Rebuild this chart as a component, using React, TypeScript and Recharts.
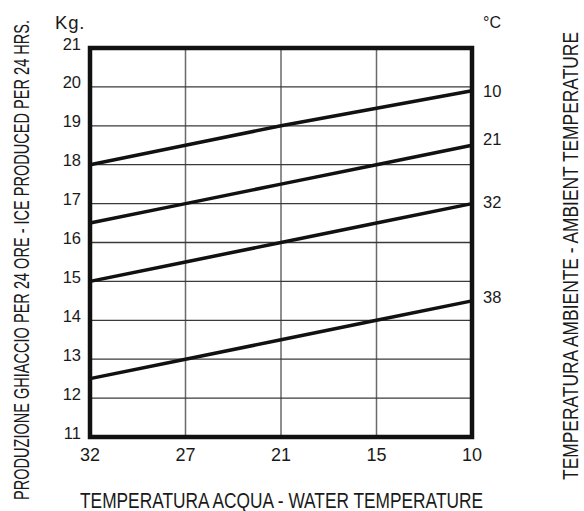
import React from "react";
import { LineChart, Line, XAxis, YAxis, CartesianGrid, ReferenceArea } from "recharts";

const waterTemps = ["32", "27", "21", "15", "10"];
const amb10 = [18, 18.5, 19, 19.45, 19.9];
const amb21 = [16.5, 17, 17.5, 18, 18.5];
const amb32 = [15, 15.5, 16, 16.5, 17];
const amb38 = [12.5, 13, 13.5, 14, 14.5];
const yTicks = [11, 12, 13, 14, 15, 16, 17, 18, 19, 20, 21];
const seriesNames = ["10", "21", "32", "38"];
const labelOffsets = [0, -6, -2, -4];

const data = waterTemps.map((w, i) => ({
  w,
  a10: amb10[i],
  a21: amb21[i],
  a32: amb32[i],
  a38: amb38[i],
}));

const keys = ["a10", "a21", "a32", "a38"];
const TXT = "#1a1a1a";
const tickFont = "'Liberation Sans', Arial, sans-serif";

const makeLabel = (si: number) => (props: any) => {
  const { x, y, index } = props;
  if (index !== waterTemps.length - 1) return null;
  return (
    <text
      x={x + 11}
      y={y + labelOffsets[si]}
      dominantBaseline="central"
      fontSize={16.5}
      fontFamily={tickFont}
      fill={TXT}
    >
      {seriesNames[si]}
    </text>
  );
};

const XTick = (props: any) => {
  const { x, y, payload } = props;
  return (
    <text x={x} y={y + 10} textAnchor="middle" dominantBaseline="central" fontSize={18} fontFamily={tickFont} fill={TXT}>
      {payload.value}
    </text>
  );
};

const YTick = (props: any) => {
  const { x, y, payload } = props;
  return (
    <text x={x - 1} y={y - 4.5} textAnchor="end" dominantBaseline="central" fontSize={16.5} fontFamily={tickFont} fill={TXT}>
      {payload.value}
    </text>
  );
};

export default function App() {
  return (
    <div style={{ position: "absolute", left: 0, top: 0, width: 584, height: 511, background: "#fff" }}>
      <LineChart
        width={584}
        height={511}
        data={data}
        margin={{ top: 48, right: 112, bottom: 44, left: 0 }}
      >
        <CartesianGrid horizontal={false} vertical={true} stroke="#6a6a6a" strokeWidth={1.5} />
        <CartesianGrid horizontal={true} vertical={false} stroke="#3a3a3a" strokeWidth={1.3} />
        <XAxis
          dataKey="w"
          height={30}
          tickLine={false}
          axisLine={false}
          tick={<XTick />}
          interval={0}
        />
        <YAxis
          width={90}
          domain={[11, 21]}
          ticks={yTicks}
          interval={0}
          tickLine={false}
          axisLine={false}
          tick={<YTick />}
        />
        <ReferenceArea
          x1="32"
          x2="10"
          y1={11}
          y2={21}
          fill="none"
          stroke="#111"
          strokeWidth={4.5}
          ifOverflow="visible"
        />
        {keys.map((k, si) => (
          <Line
            key={k}
            dataKey={k}
            type="linear"
            stroke="#111"
            strokeWidth={3.5}
            dot={false}
            activeDot={false}
            isAnimationActive={false}
            label={makeLabel(si)}
          />
        ))}
      </LineChart>
      <svg
        width={584}
        height={511}
        style={{ position: "absolute", left: 0, top: 0, pointerEvents: "none" }}
      >
        <text x={55} y={29} fontSize={18.5} fontFamily={tickFont} fill={TXT} letterSpacing={0.8}>Kg.</text>
        <text x={483} y={28} fontSize={16} fontFamily={tickFont} fill={TXT}>°C</text>
        <g transform="translate(281.5,508) scale(1,1.26)">
          <text
            x={0}
            y={0}
            textAnchor="middle"
            fontSize={17.5}
            fontFamily={tickFont}
            fill={TXT}
            textLength={403}
            lengthAdjust="spacingAndGlyphs"
          >
            TEMPERATURA ACQUA - WATER TEMPERATURE
          </text>
        </g>
        <g transform="translate(29,260) rotate(-90) scale(1,1.5)">
          <text
            x={0}
            y={0}
            textAnchor="middle"
            fontSize={14.6}
            fontFamily={tickFont}
            fill={TXT}
            textLength={480}
            lengthAdjust="spacingAndGlyphs"
          >
            PRODUZIONE GHIACCIO PER 24 ORE - ICE PRODUCED PER 24 HRS.
          </text>
        </g>
        <g transform="translate(578,256) rotate(-90) scale(1,1.28)">
          <text
            x={0}
            y={0}
            textAnchor="middle"
            fontSize={17.1}
            fontFamily={tickFont}
            fill={TXT}
            textLength={448}
            lengthAdjust="spacingAndGlyphs"
          >
            TEMPERATURA AMBIENTE - AMBIENT TEMPERATURE
          </text>
        </g>
      </svg>
    </div>
  );
}
